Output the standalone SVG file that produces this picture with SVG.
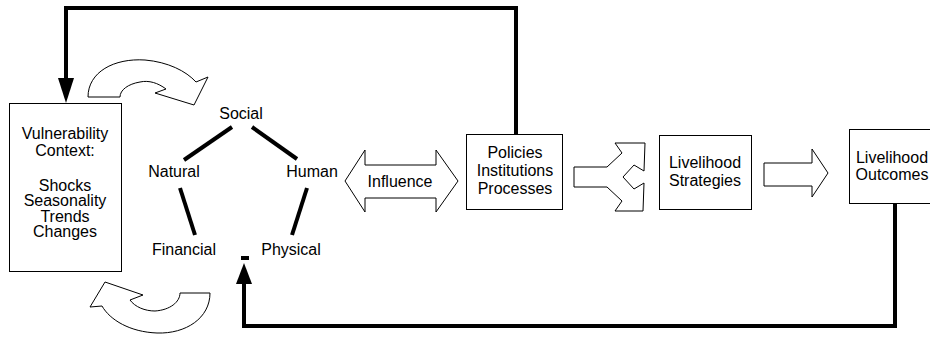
<svg xmlns="http://www.w3.org/2000/svg" width="930" height="338" viewBox="0 0 930 338">
<style>
.t{font-family:"Liberation Sans",Arial,sans-serif;font-size:16px;fill:#000;text-anchor:middle}
.box{fill:#fff;stroke:#000;stroke-width:1}
.blk{fill:#fff;stroke:#000;stroke-width:1;stroke-linejoin:miter}
.thick{fill:none;stroke:#000;stroke-width:4}
.edge{stroke:#000;stroke-width:4;fill:none}
</style>
<rect width="930" height="338" fill="#fff"/>
<g id="connectors">
  <polyline class="thick" points="516,134 516,8 66,8 66,80"/>
  <polygon points="58,78 74,78 66,103" fill="#000"/>
  <polyline class="thick" points="895,204 895,326 244,326 244,282"/>
  <polygon points="236,284 252,284 244,263" fill="#000"/>
  <rect x="241" y="256" width="8" height="4" fill="#000"/>
  <line class="edge" x1="232" y1="127" x2="184" y2="160"/>
  <line class="edge" x1="252" y1="127" x2="297" y2="159"/>
  <line class="edge" x1="180" y1="188" x2="195" y2="235"/>
  <line class="edge" x1="307" y1="188" x2="292" y2="235"/>
</g>
<g id="cycle-top">
  <path class="blk" d="M88 97 C88 72,114 58,145 60 C168 62,186 71,196 82 L208 77 L194 105 L155 93 L166 89 C158 83,149 80,140 82 C128 84,120 90,120 97 Z"/>
</g>
<g id="cycle-bottom">
  <path class="blk" d="M180 293 L210 293 C210 318,186 334,157 333 C130 332,110 320,102 306 L90 307 L105 282 L143 295 L130 300 C135 307,145 311,155 311 C170 310,180 302,180 293 Z"/>
</g>
<g id="vulnerability">
  <rect class="box" x="9.5" y="103.5" width="112" height="168"/>
  <text class="t" x="65" y="138.5">Vulnerability</text>
  <text class="t" x="65" y="156">Context:</text>
  <text class="t" x="65" y="190.5">Shocks</text>
  <text class="t" x="65" y="206">Seasonality</text>
  <text class="t" x="65" y="221.5">Trends</text>
  <text class="t" x="65" y="237">Changes</text>
</g>
<g id="social"><text class="t" x="241" y="119">Social</text></g>
<g id="natural"><text class="t" x="174" y="177">Natural</text></g>
<g id="human"><text class="t" x="312" y="177">Human</text></g>
<g id="financial"><text class="t" x="184" y="255">Financial</text></g>
<g id="physical"><text class="t" x="291" y="255">Physical</text></g>
<g id="influence">
  <polygon class="blk" points="345,181 365,150 365,165 436,165 436,150 458,181 436,212 436,198 365,198 365,212"/>
  <text class="t" x="400" y="186.5">Influence</text>
</g>
<g id="policies">
  <rect class="box" x="466.5" y="134.5" width="96" height="75"/>
  <text class="t" x="515" y="158">Policies</text>
  <text class="t" x="515" y="176">Institutions</text>
  <text class="t" x="515" y="194">Processes</text>
</g>
<g id="split-arrow">
  <polygon class="blk" points="574,167 607,167 622,153 615,143 645,143 644,171 634,165 623,177 634,189 644,183 643,211 615,211 622,201 607,187 574,187"/>
</g>
<g id="strategies">
  <rect class="box" x="659.5" y="135.5" width="92" height="74"/>
  <text class="t" x="705" y="168">Livelihood</text>
  <text class="t" x="705" y="186">Strategies</text>
</g>
<g id="right-arrow">
  <polygon class="blk" points="764,163 812,163 812,149 828,173 812,197 812,186 764,186"/>
</g>
<g id="outcomes">
  <rect class="box" x="849.5" y="129.5" width="90" height="74"/>
  <text class="t" x="892" y="163">Livelihood</text>
  <text class="t" x="892" y="180">Outcomes</text>
</g>
</svg>
